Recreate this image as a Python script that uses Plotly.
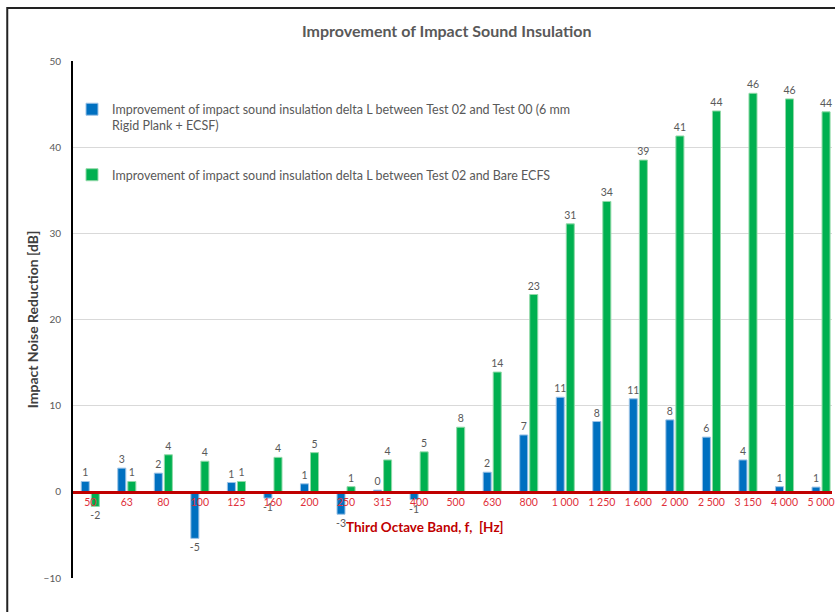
import plotly.graph_objects as go

bands = ["50", "63", "80", "100", "125", "160", "200", "250", "315", "400", "500",
         "630", "800", "1 000", "1 250", "1 600", "2 000", "2 500", "3 150", "4 000", "5 000"]

test00_delta = [1.2, 2.75, 2.17, -5.4, 1.08, -0.73, 0.93, -2.6, 0.2, -0.9, None,
                2.28, 6.6, 10.98, 8.16, 10.8, 8.35, 6.35, 3.7, 0.6, 0.55]

bare_delta = [-1.7, 1.2, 4.3, 3.55, 1.2, 4.0, 4.55, 0.6, 3.7, 4.64, 7.5,
              13.9, 22.9, 31.1, 33.7, 38.5, 41.3, 44.2, 46.25, 45.6, 44.1]

name_blue = ("Improvement of impact sound insulation delta L between Test 02 and Test 00 (6 mm"
             "<br>Rigid Plank + ECSF)")
name_green = "Improvement of impact sound insulation delta L between Test 02 and Bare ECFS"

FONT = "Lato, Carlito, Calibri, sans-serif"
GRAY = "#595959"

fig = go.Figure()
fig.add_trace(go.Bar(
    x=bands, y=test00_delta, name=name_blue, legendgroup="a",
    marker=dict(color="#0070C0", line=dict(color="#9DC3E6", width=1)),
    texttemplate="%{y:.0f}", textposition="outside", constraintext="none",
    textfont=dict(color=GRAY, size=10.5, family=FONT), cliponaxis=False,
))
fig.add_trace(go.Bar(
    x=bands, y=bare_delta, name=name_green, legendgroup="b",
    marker=dict(color="#00B050", line=dict(color="#92D9A8", width=1)),
    texttemplate="%{y:.0f}", textposition="outside", constraintext="none",
    textfont=dict(color=GRAY, size=10.5, family=FONT), cliponaxis=False,
))

fig.update_layout(
    width=835, height=612,
    margin=dict(l=72, r=0, t=61, b=34),
    paper_bgcolor="white", plot_bgcolor="white",
    font=dict(family=FONT, color=GRAY),
    barmode="group", bargap=0.45, bargroupgap=0.2,
    title=dict(text="<b>Improvement of Impact Sound Insulation</b>",
               x=0.535, xanchor="center", y=1 - 31 / 612, yanchor="middle",
               font=dict(size=16, color=GRAY, family=FONT)),
    showlegend=True,
    legend=dict(x=0.0, y=0.935, xanchor="left", yanchor="top", valign="top",
                itemwidth=30,
                bgcolor="rgba(0,0,0,0)", font=dict(size=12.5, color=GRAY, family=FONT),
                tracegroupgap=30, traceorder="grouped"),
    xaxis=dict(
        type="category", range=[-0.5, 20.3],
        anchor="free", position=1 / 6,
        showline=True, linecolor="#C00000", linewidth=3,
        showgrid=False, ticks="",
        tickfont=dict(color="#E0303A", size=10.5, family=FONT),
    ),
    yaxis=dict(
        range=[-10, 50], dtick=10, tick0=0,
        anchor="free", position=0,
        showline=True, linecolor="black", linewidth=2,
        showgrid=True, gridcolor="#D9D9D9", gridwidth=1,
        zeroline=False, ticks="", ticklabelstandoff=8,
        tickfont=dict(color=GRAY, size=10, family=FONT),
        title=dict(text="<b>Impact Noise Reduction [dB]</b>",
                   font=dict(color="#404040", size=14, family=FONT), standoff=1),
    ),
    annotations=[dict(text="<b>Third Octave Band, f,  [Hz]</b>",
                      xref="paper", yref="paper", x=(426 - 72) / 763, y=(578 - 527) / 517,
                      xanchor="center", yanchor="middle", showarrow=False,
                      font=dict(color="#C00000", size=13.5, family=FONT))],
    shapes=[dict(type="rect", xref="paper", yref="paper",
                 x0=(7 - 72) / 763, x1=1.02, y0=-0.1, y1=(578 - 8) / 517,
                 line=dict(color="#222222", width=2), fillcolor="rgba(0,0,0,0)",
                 layer="below")],
)

fig.write_html("out.html", config={"displayModeBar": False},
               post_script="document.body.style.margin='0';document.body.style.overflow='hidden';")
